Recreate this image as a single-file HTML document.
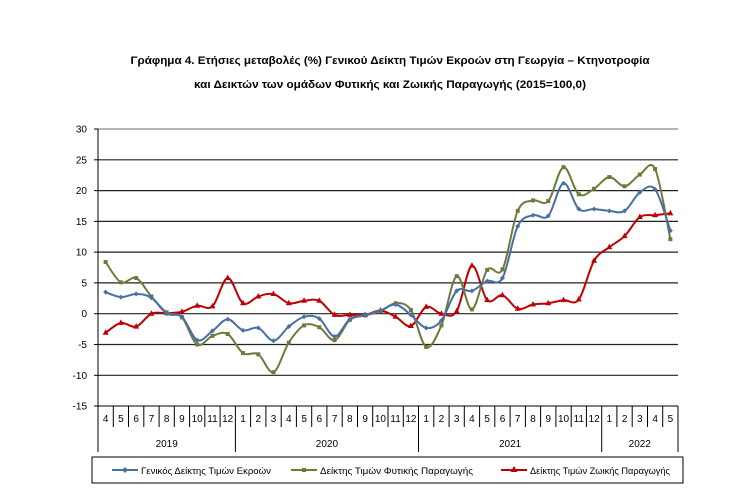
<!DOCTYPE html>
<html><head><meta charset="utf-8"><style>
html,body{margin:0;padding:0;background:#fff;}
svg{display:block;font-family:"Liberation Sans",sans-serif;}
</style></head><body>
<svg id="s" width="737" height="498" viewBox="0 0 737 498" xmlns="http://www.w3.org/2000/svg">
<rect width="737" height="498" fill="#fff"/>
<text x="390" y="64" text-anchor="middle" font-size="11" font-weight="bold" textLength="519" lengthAdjust="spacingAndGlyphs">Γράφημα 4. Ετήσιες μεταβολές (%) Γενικού Δείκτη Τιμών Εκροών στη Γεωργία – Κτηνοτροφία</text>
<text x="390" y="88" text-anchor="middle" font-size="11" font-weight="bold" textLength="392" lengthAdjust="spacingAndGlyphs">και Δεικτών των ομάδων Φυτικής και Ζωικής Παραγωγής (2015=100,0)</text>
<g id="g"></g>
<rect x="92" y="457" width="591" height="26" fill="none" stroke="#000" stroke-width="1"/>
<line x1="112" y1="470" x2="138" y2="470" stroke="#4a6fa5" stroke-width="2"/><path d="M125 467L128 470L125 473L122 470Z" fill="#4a6fa5"/>
<text x="141" y="474" font-size="9.5" textLength="130" lengthAdjust="spacingAndGlyphs">Γενικός Δείκτης Τιμών Εκροών</text>
<line x1="291" y1="470" x2="317" y2="470" stroke="#6b7c3a" stroke-width="2"/><rect x="302" y="468" width="4" height="4" fill="#6b7c3a"/>
<text x="320" y="474" font-size="9.5" textLength="153" lengthAdjust="spacingAndGlyphs">Δείκτης Τιμών Φυτικής Παραγωγής</text>
<line x1="501" y1="470" x2="527" y2="470" stroke="#c00000" stroke-width="2"/><path d="M514 466L517.5 472L510.5 472Z" fill="#c00000"/>
<text x="530" y="474" font-size="9.5" textLength="140" lengthAdjust="spacingAndGlyphs">Δείκτης Τιμών Ζωικής Παραγωγής</text>
</svg>
<script>
var g=document.getElementById('g'),h='';
var X0=98,X1=678,n=38,cw=(X1-X0)/n;
function Y(v){return 313.7-v*6.156;}
function XI(i){return X0+cw*(i+0.5);}
for(var v=-15;v<=30;v+=5){var y=Y(v).toFixed(1);
 if(v>-15)h+='<line x1="'+X0+'" y1="'+y+'" x2="'+X1+'" y2="'+y+'" stroke="'+(v==30?'#888':'#222')+'" stroke-width="1.2"/>';
 h+='<line x1="'+(X0-4)+'" y1="'+y+'" x2="'+X0+'" y2="'+y+'" stroke="#000"/>';
 h+='<text x="'+(X0-11)+'" y="'+(+y+3.5)+'" text-anchor="end" font-size="10">'+v+'</text>';}
h+='<line x1="'+X0+'" y1="129" x2="'+X0+'" y2="406" stroke="#000"/>';
h+='<line x1="'+X0+'" y1="406" x2="'+X1+'" y2="406" stroke="#000"/>';
var months=[];for(var m=4;m<=12;m++)months.push(m);for(var k=0;k<2;k++)for(m=1;m<=12;m++)months.push(m);for(m=1;m<=5;m++)months.push(m);
for(var i=0;i<=n;i++){var x=(X0+cw*i).toFixed(1);var yr=(i==0||i==9||i==21||i==33||i==38);
 h+='<line x1="'+x+'" y1="406" x2="'+x+'" y2="'+(yr?452:427)+'" stroke="#000"/>';
 if(i<n)h+='<text x="'+XI(i).toFixed(1)+'" y="422" text-anchor="middle" font-size="10">'+months[i]+'</text>';}
[[0,9,'2019'],[9,21,'2020'],[21,33,'2021'],[33,38,'2022']].forEach(function(a){
 h+='<text x="'+(X0+cw*(a[0]+a[1])/2).toFixed(1)+'" y="447" text-anchor="middle" font-size="10">'+a[2]+'</text>';});
var B=[3.5,2.7,3.2,2.6,0,-0.5,-4.3,-2.8,-0.9,-2.7,-2.3,-4.4,-2.1,-0.5,-0.8,-3.7,-0.9,-0.2,0.5,1.5,-0.2,-2.3,-1.1,3.7,3.7,5.3,5.8,14.2,16,15.9,21.2,17,17,16.7,16.7,19.7,20.2,13.5];
var G=[8.4,5.1,5.8,2.8,0.2,-0.6,-5,-3.6,-3.3,-6.4,-6.6,-9.5,-4.7,-1.9,-2.2,-4.3,-1,-0.3,0.4,1.7,0.6,-5.4,-1.9,6.1,0.7,7.1,7.2,16.7,18.4,18.3,23.8,19.4,20.3,22.2,20.7,22.6,23.5,12.1];
var R=[-3.1,-1.5,-2.1,0,0.1,0.3,1.3,1.2,5.8,1.7,2.8,3.2,1.7,2.1,2.1,-0.2,-0.2,-0.2,0.5,-0.5,-2,1.1,0,0.4,7.8,2.2,3,0.8,1.5,1.7,2.2,2.3,8.6,10.8,12.6,15.7,16,16.3];
function path(d){var p=d.map(function(v,i){return[XI(i),Y(v)]});var s='M'+p[0][0].toFixed(1)+' '+p[0][1].toFixed(1);
 for(var i=0;i<p.length-1;i++){var p0=p[i-1]||p[i],p1=p[i],p2=p[i+1],p3=p[i+2]||p2;var t=1/6;
 s+='C'+(p1[0]+(p2[0]-p0[0])*t).toFixed(1)+' '+(p1[1]+(p2[1]-p0[1])*t).toFixed(1)+' '+(p2[0]-(p3[0]-p1[0])*t).toFixed(1)+' '+(p2[1]-(p3[1]-p1[1])*t).toFixed(1)+' '+p2[0].toFixed(1)+' '+p2[1].toFixed(1);}
 return s;}
function series(d,c,mk){h+='<path d="'+path(d)+'" fill="none" stroke="'+c+'" stroke-width="2"/>';
 d.forEach(function(v,i){var x=XI(i),y=Y(v);
 if(mk==0)h+='<path d="M'+x+' '+(y-2.5)+'L'+(x+2.5)+' '+y+'L'+x+' '+(y+2.5)+'L'+(x-2.5)+' '+y+'Z" fill="'+c+'"/>';
 else if(mk==1)h+='<rect x="'+(x-2)+'" y="'+(y-2)+'" width="4" height="4" fill="'+c+'"/>';
 else h+='<path d="M'+x+' '+(y-3.5)+'L'+(x+3)+' '+(y+2)+'L'+(x-3)+' '+(y+2)+'Z" fill="'+c+'"/>';});}
series(R,'#c00000',2);series(G,'#6b7c3a',1);series(B,'#4a6fa5',0);
g.innerHTML=h;
</script>
</body></html>
